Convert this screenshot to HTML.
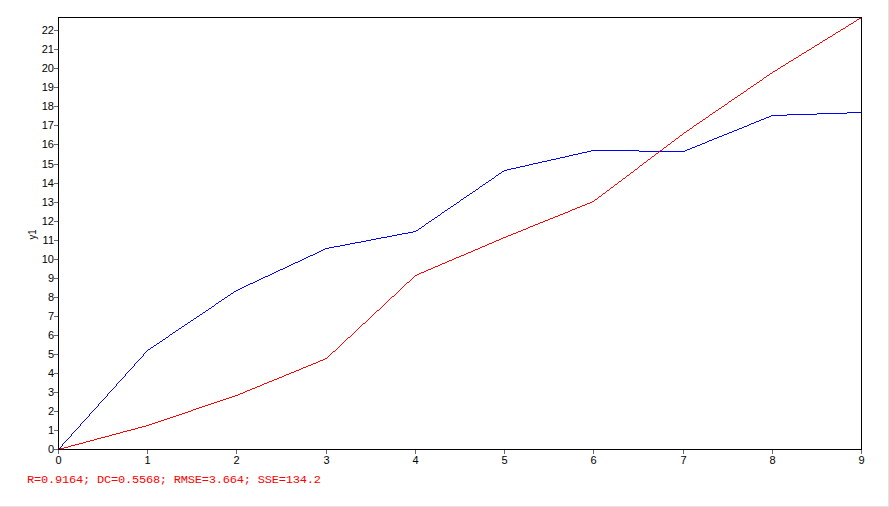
<!DOCTYPE html>
<html lang="en">
<head>
<meta charset="utf-8">
<title>Chart</title>
<style>
html,body{margin:0;padding:0;background:#fff;overflow:hidden}
#wrap{position:relative;width:888px;height:506px;background:#fff;border-right:1px solid #e3e3e3;border-bottom:1px solid #e3e3e3;overflow:hidden}
svg{position:absolute;left:0;top:0;display:block}
.t{font-family:"Liberation Sans",Arial,sans-serif;font-size:11px;fill:#000}
.s{font-family:"Liberation Mono","Courier New",monospace;font-size:12px;fill:#ff0000;letter-spacing:-0.2px}
</style>
</head>
<body>
<div id="wrap">
<svg width="888" height="506" viewBox="0 0 888 506">

<g shape-rendering="crispEdges" fill="none" stroke-width="1" stroke-linejoin="miter">
<path d="M847 112.5h15M817 113.5h30M787 114.5h30M771 115.5h16M769 116.5h2M766 117.5h3M764 118.5h2M761 119.5h3M759 120.5h2M756 121.5h3M754 122.5h2M751 123.5h3M749 124.5h2M747 125.5h2M744 126.5h3M742 127.5h2M739 128.5h3M737 129.5h2M734 130.5h3M732 131.5h2M729 132.5h3M727 133.5h2M724 134.5h3M722 135.5h2M719 136.5h3M717 137.5h2M714 138.5h3M712 139.5h2M709 140.5h3M707 141.5h2M705 142.5h2M702 143.5h3M700 144.5h2M697 145.5h3M695 146.5h2M692 147.5h3M690 148.5h2M687 149.5h3M591 150.5h48M685 150.5h2M587 151.5h4M639 151.5h46M582 152.5h5M578 153.5h4M573 154.5h5M569 155.5h4M565 156.5h4M560 157.5h5M556 158.5h4M551 159.5h5M547 160.5h4M542 161.5h5M538 162.5h4M533 163.5h5M529 164.5h4M525 165.5h4M520 166.5h5M516 167.5h4M511 168.5h5M507 169.5h4M504 170.5h3M502 171.5h2M501 172.5h1M499 173.5h2M498 174.5h1M496 175.5h2M495 176.5h1M494 177.5h1M492 178.5h2M491 179.5h1M489 180.5h2M488 181.5h1M486 182.5h2M485 183.5h1M483 184.5h2M482 185.5h1M480 186.5h2M479 187.5h1M478 188.5h1M476 189.5h2M475 190.5h1M473 191.5h2M472 192.5h1M470 193.5h2M469 194.5h1M467 195.5h2M466 196.5h1M464 197.5h2M463 198.5h1M461 199.5h2M460 200.5h1M459 201.5h1M457 202.5h2M456 203.5h1M454 204.5h2M453 205.5h1M451 206.5h2M450 207.5h1M448 208.5h2M447 209.5h1M445 210.5h2M444 211.5h1M442 212.5h2M441 213.5h1M440 214.5h1M438 215.5h2M437 216.5h1M435 217.5h2M434 218.5h1M432 219.5h2M431 220.5h1M429 221.5h2M428 222.5h1M426 223.5h2M425 224.5h1M424 225.5h1M422 226.5h2M421 227.5h1M419 228.5h2M418 229.5h1M416 230.5h2M413 231.5h3M408 232.5h5M402 233.5h6M397 234.5h5M392 235.5h5M387 236.5h5M381 237.5h6M376 238.5h5M371 239.5h5M366 240.5h5M361 241.5h5M355 242.5h6M350 243.5h5M345 244.5h5M340 245.5h5M334 246.5h6M329 247.5h5M325 248.5h4M323 249.5h2M321 250.5h2M319 251.5h2M317 252.5h2M315 253.5h2M313 254.5h2M310 255.5h3M308 256.5h2M306 257.5h2M304 258.5h2M302 259.5h2M300 260.5h2M298 261.5h2M295 262.5h3M293 263.5h2M291 264.5h2M289 265.5h2M287 266.5h2M285 267.5h2M283 268.5h2M280 269.5h3M278 270.5h2M276 271.5h2M274 272.5h2M272 273.5h2M270 274.5h2M268 275.5h2M265 276.5h3M263 277.5h2M261 278.5h2M259 279.5h2M257 280.5h2M255 281.5h2M253 282.5h2M250 283.5h3M248 284.5h2M246 285.5h2M244 286.5h2M242 287.5h2M240 288.5h2M238 289.5h2M236 290.5h2M234 291.5h2M233 292.5h1M231 293.5h2M230 294.5h1M228 295.5h2M227 296.5h1M225 297.5h2M224 298.5h1M222 299.5h2M221 300.5h1M219 301.5h2M218 302.5h1M216 303.5h2M215 304.5h1M214 305.5h1M212 306.5h2M211 307.5h1M209 308.5h2M208 309.5h1M206 310.5h2M205 311.5h1M203 312.5h2M202 313.5h1M200 314.5h2M199 315.5h1M197 316.5h2M196 317.5h1M194 318.5h2M193 319.5h1M191 320.5h2M190 321.5h1M188 322.5h2M187 323.5h1M185 324.5h2M184 325.5h1M182 326.5h2M181 327.5h1M179 328.5h2M178 329.5h1M176 330.5h2M175 331.5h1M173 332.5h2M172 333.5h1M170 334.5h2M169 335.5h1M168 336.5h1M166 337.5h2M165 338.5h1M163 339.5h2M162 340.5h1M160 341.5h2M159 342.5h1M157 343.5h2M156 344.5h1M154 345.5h2M153 346.5h1M151 347.5h2M150 348.5h1M148 349.5h2M147 350.5h1M146 351.5h1M145 352.5h1M144 353.5h1M143 354.5h1M143 355.5h1M142 356.5h1M141 357.5h1M140 358.5h1M139 359.5h1M138 360.5h1M137 361.5h1M136 362.5h1M135 363.5h1M134 364.5h1M134 365.5h1M133 366.5h1M132 367.5h1M131 368.5h1M130 369.5h1M129 370.5h1M128 371.5h1M127 372.5h1M126 373.5h1M125 374.5h1M125 375.5h1M124 376.5h1M123 377.5h1M122 378.5h1M121 379.5h1M120 380.5h1M119 381.5h1M118 382.5h1M117 383.5h1M116 384.5h1M116 385.5h1M115 386.5h1M114 387.5h1M113 388.5h1M112 389.5h1M111 390.5h1M110 391.5h1M109 392.5h1M108 393.5h1M107 394.5h1M107 395.5h1M106 396.5h1M105 397.5h1M104 398.5h1M103 399.5h1M102 400.5h1M101 401.5h1M100 402.5h1M99 403.5h1M98 404.5h1M98 405.5h1M97 406.5h1M96 407.5h1M95 408.5h1M94 409.5h1M93 410.5h1M92 411.5h1M91 412.5h1M90 413.5h1M89 414.5h1M89 415.5h1M88 416.5h1M87 417.5h1M86 418.5h1M85 419.5h1M84 420.5h1M83 421.5h1M82 422.5h1M81 423.5h1M80 424.5h1M80 425.5h1M79 426.5h1M78 427.5h1M77 428.5h1M76 429.5h1M75 430.5h1M74 431.5h1M73 432.5h1M72 433.5h1M71 434.5h1M71 435.5h1M70 436.5h1M69 437.5h1M68 438.5h1M67 439.5h1M66 440.5h1M65 441.5h1M64 442.5h1M63 443.5h1M62 444.5h1M62 445.5h1M61 446.5h1M60 447.5h1M59 448.5h1M58 449.5h1" stroke="#0000ff"/>
<path d="M861 17.5h1M859 18.5h2M857 19.5h2M856 20.5h1M854 21.5h2M853 22.5h1M851 23.5h2M849 24.5h2M848 25.5h1M846 26.5h2M845 27.5h1M843 28.5h2M841 29.5h2M840 30.5h1M838 31.5h2M836 32.5h2M835 33.5h1M833 34.5h2M832 35.5h1M830 36.5h2M828 37.5h2M827 38.5h1M825 39.5h2M823 40.5h2M822 41.5h1M820 42.5h2M819 43.5h1M817 44.5h2M815 45.5h2M814 46.5h1M812 47.5h2M811 48.5h1M809 49.5h2M807 50.5h2M806 51.5h1M804 52.5h2M802 53.5h2M801 54.5h1M799 55.5h2M798 56.5h1M796 57.5h2M794 58.5h2M793 59.5h1M791 60.5h2M789 61.5h2M788 62.5h1M786 63.5h2M785 64.5h1M783 65.5h2M781 66.5h2M780 67.5h1M778 68.5h2M777 69.5h1M775 70.5h2M773 71.5h2M772 72.5h1M770 73.5h2M769 74.5h1M767 75.5h2M766 76.5h1M764 77.5h2M763 78.5h1M762 79.5h1M760 80.5h2M759 81.5h1M757 82.5h2M756 83.5h1M754 84.5h2M753 85.5h1M751 86.5h2M750 87.5h1M748 88.5h2M747 89.5h1M746 90.5h1M744 91.5h2M743 92.5h1M741 93.5h2M740 94.5h1M738 95.5h2M737 96.5h1M735 97.5h2M734 98.5h1M732 99.5h2M731 100.5h1M729 101.5h2M728 102.5h1M727 103.5h1M725 104.5h2M724 105.5h1M722 106.5h2M721 107.5h1M719 108.5h2M718 109.5h1M716 110.5h2M715 111.5h1M713 112.5h2M712 113.5h1M710 114.5h2M709 115.5h1M708 116.5h1M706 117.5h2M705 118.5h1M703 119.5h2M702 120.5h1M700 121.5h2M699 122.5h1M697 123.5h2M696 124.5h1M694 125.5h2M693 126.5h1M692 127.5h1M690 128.5h2M689 129.5h1M687 130.5h2M686 131.5h1M684 132.5h2M683 133.5h1M682 134.5h1M680 135.5h2M679 136.5h1M678 137.5h1M676 138.5h2M675 139.5h1M674 140.5h1M672 141.5h2M671 142.5h1M670 143.5h1M668 144.5h2M667 145.5h1M666 146.5h1M664 147.5h2M663 148.5h1M662 149.5h1M660 150.5h2M659 151.5h1M658 152.5h1M656 153.5h2M655 154.5h1M654 155.5h1M652 156.5h2M651 157.5h1M650 158.5h1M648 159.5h2M647 160.5h1M646 161.5h1M644 162.5h2M643 163.5h1M642 164.5h1M640 165.5h2M639 166.5h1M638 167.5h1M637 168.5h1M635 169.5h2M634 170.5h1M633 171.5h1M631 172.5h2M630 173.5h1M629 174.5h1M627 175.5h2M626 176.5h1M625 177.5h1M623 178.5h2M622 179.5h1M621 180.5h1M619 181.5h2M618 182.5h1M617 183.5h1M615 184.5h2M614 185.5h1M613 186.5h1M611 187.5h2M610 188.5h1M609 189.5h1M607 190.5h2M606 191.5h1M605 192.5h1M603 193.5h2M602 194.5h1M601 195.5h1M599 196.5h2M598 197.5h1M597 198.5h1M595 199.5h2M594 200.5h1M592 201.5h2M590 202.5h2M587 203.5h3M585 204.5h2M582 205.5h3M580 206.5h2M577 207.5h3M575 208.5h2M572 209.5h3M570 210.5h2M568 211.5h2M565 212.5h3M563 213.5h2M560 214.5h3M558 215.5h2M555 216.5h3M553 217.5h2M550 218.5h3M548 219.5h2M545 220.5h3M543 221.5h2M540 222.5h3M538 223.5h2M535 224.5h3M533 225.5h2M530 226.5h3M528 227.5h2M526 228.5h2M523 229.5h3M521 230.5h2M518 231.5h3M516 232.5h2M513 233.5h3M511 234.5h2M508 235.5h3M506 236.5h2M503 237.5h3M501 238.5h2M499 239.5h2M496 240.5h3M494 241.5h2M492 242.5h2M489 243.5h3M487 244.5h2M485 245.5h2M482 246.5h3M480 247.5h2M478 248.5h2M475 249.5h3M473 250.5h2M471 251.5h2M468 252.5h3M466 253.5h2M464 254.5h2M461 255.5h3M459 256.5h2M456 257.5h3M454 258.5h2M452 259.5h2M449 260.5h3M447 261.5h2M445 262.5h2M442 263.5h3M440 264.5h2M438 265.5h2M435 266.5h3M433 267.5h2M431 268.5h2M428 269.5h3M426 270.5h2M424 271.5h2M421 272.5h3M419 273.5h2M417 274.5h2M415 275.5h2M414 276.5h1M413 277.5h1M412 278.5h1M411 279.5h1M410 280.5h1M409 281.5h1M407 282.5h2M406 283.5h1M405 284.5h1M404 285.5h1M403 286.5h1M402 287.5h1M401 288.5h1M400 289.5h1M399 290.5h1M398 291.5h1M397 292.5h1M396 293.5h1M395 294.5h1M394 295.5h1M392 296.5h2M391 297.5h1M390 298.5h1M389 299.5h1M388 300.5h1M387 301.5h1M386 302.5h1M385 303.5h1M384 304.5h1M383 305.5h1M382 306.5h1M381 307.5h1M380 308.5h1M379 309.5h1M377 310.5h2M376 311.5h1M375 312.5h1M374 313.5h1M373 314.5h1M372 315.5h1M371 316.5h1M370 317.5h1M369 318.5h1M368 319.5h1M367 320.5h1M366 321.5h1M365 322.5h1M363 323.5h2M362 324.5h1M361 325.5h1M360 326.5h1M359 327.5h1M358 328.5h1M357 329.5h1M356 330.5h1M355 331.5h1M354 332.5h1M353 333.5h1M352 334.5h1M351 335.5h1M350 336.5h1M348 337.5h2M347 338.5h1M346 339.5h1M345 340.5h1M344 341.5h1M343 342.5h1M342 343.5h1M341 344.5h1M340 345.5h1M339 346.5h1M338 347.5h1M337 348.5h1M336 349.5h1M335 350.5h1M333 351.5h2M332 352.5h1M331 353.5h1M330 354.5h1M329 355.5h1M328 356.5h1M327 357.5h1M325 358.5h2M323 359.5h2M320 360.5h3M318 361.5h2M316 362.5h2M313 363.5h3M311 364.5h2M308 365.5h3M306 366.5h2M303 367.5h3M301 368.5h2M299 369.5h2M296 370.5h3M294 371.5h2M291 372.5h3M289 373.5h2M286 374.5h3M284 375.5h2M282 376.5h2M279 377.5h3M277 378.5h2M274 379.5h3M272 380.5h2M269 381.5h3M267 382.5h2M264 383.5h3M262 384.5h2M260 385.5h2M257 386.5h3M255 387.5h2M252 388.5h3M250 389.5h2M247 390.5h3M245 391.5h2M243 392.5h2M240 393.5h3M238 394.5h2M235 395.5h3M232 396.5h3M229 397.5h3M226 398.5h3M223 399.5h3M220 400.5h3M217 401.5h3M214 402.5h3M211 403.5h3M208 404.5h3M205 405.5h3M202 406.5h3M199 407.5h3M196 408.5h3M193 409.5h3M191 410.5h2M188 411.5h3M185 412.5h3M182 413.5h3M179 414.5h3M176 415.5h3M173 416.5h3M170 417.5h3M167 418.5h3M164 419.5h3M161 420.5h3M158 421.5h3M155 422.5h3M152 423.5h3M149 424.5h3M146 425.5h3M142 426.5h4M138 427.5h4M135 428.5h3M131 429.5h4M127 430.5h4M123 431.5h4M120 432.5h3M116 433.5h4M112 434.5h4M109 435.5h3M105 436.5h4M101 437.5h4M97 438.5h4M94 439.5h3M90 440.5h4M86 441.5h4M83 442.5h3M79 443.5h4M75 444.5h4M71 445.5h4M68 446.5h3M64 447.5h4M60 448.5h4M58 449.5h2" stroke="#ff0000"/>
</g>
<g shape-rendering="crispEdges" stroke="#696969" stroke-width="1">
<line x1="54" y1="449.5" x2="58" y2="449.5"/>
<line x1="54" y1="430.5" x2="58" y2="430.5"/>
<line x1="54" y1="411.5" x2="58" y2="411.5"/>
<line x1="54" y1="392.5" x2="58" y2="392.5"/>
<line x1="54" y1="373.5" x2="58" y2="373.5"/>
<line x1="54" y1="354.5" x2="58" y2="354.5"/>
<line x1="54" y1="335.5" x2="58" y2="335.5"/>
<line x1="54" y1="316.5" x2="58" y2="316.5"/>
<line x1="54" y1="297.5" x2="58" y2="297.5"/>
<line x1="54" y1="278.5" x2="58" y2="278.5"/>
<line x1="54" y1="259.5" x2="58" y2="259.5"/>
<line x1="54" y1="240.5" x2="58" y2="240.5"/>
<line x1="54" y1="221.5" x2="58" y2="221.5"/>
<line x1="54" y1="202.5" x2="58" y2="202.5"/>
<line x1="54" y1="183.5" x2="58" y2="183.5"/>
<line x1="54" y1="164.5" x2="58" y2="164.5"/>
<line x1="54" y1="144.5" x2="58" y2="144.5"/>
<line x1="54" y1="125.5" x2="58" y2="125.5"/>
<line x1="54" y1="106.5" x2="58" y2="106.5"/>
<line x1="54" y1="87.5" x2="58" y2="87.5"/>
<line x1="54" y1="68.5" x2="58" y2="68.5"/>
<line x1="54" y1="49.5" x2="58" y2="49.5"/>
<line x1="54" y1="30.5" x2="58" y2="30.5"/>
<line x1="58.5" y1="450" x2="58.5" y2="454"/>
<line x1="147.5" y1="450" x2="147.5" y2="454"/>
<line x1="236.5" y1="450" x2="236.5" y2="454"/>
<line x1="326.5" y1="450" x2="326.5" y2="454"/>
<line x1="415.5" y1="450" x2="415.5" y2="454"/>
<line x1="504.5" y1="450" x2="504.5" y2="454"/>
<line x1="593.5" y1="450" x2="593.5" y2="454"/>
<line x1="683.5" y1="450" x2="683.5" y2="454"/>
<line x1="772.5" y1="450" x2="772.5" y2="454"/>
<line x1="861.5" y1="450" x2="861.5" y2="454"/>
</g>
<rect x="58.5" y="17.5" width="803" height="432" fill="none" stroke="#000" stroke-width="1" shape-rendering="crispEdges"/>
<g class="t" text-anchor="end">
<text x="54" y="453">0</text>
<text x="54" y="434">1</text>
<text x="54" y="415">2</text>
<text x="54" y="396">3</text>
<text x="54" y="377">4</text>
<text x="54" y="358">5</text>
<text x="54" y="339">6</text>
<text x="54" y="320">7</text>
<text x="54" y="301">8</text>
<text x="54" y="282">9</text>
<text x="54" y="263">10</text>
<text x="54" y="244">11</text>
<text x="54" y="225">12</text>
<text x="54" y="206">13</text>
<text x="54" y="187">14</text>
<text x="54" y="168">15</text>
<text x="54" y="148">16</text>
<text x="54" y="129">17</text>
<text x="54" y="110">18</text>
<text x="54" y="91">19</text>
<text x="54" y="72">20</text>
<text x="54" y="53">21</text>
<text x="54" y="34">22</text>
</g>
<g class="t" text-anchor="middle">
<text x="58.5" y="464">0</text>
<text x="147.5" y="464">1</text>
<text x="236.5" y="464">2</text>
<text x="326.5" y="464">3</text>
<text x="415.5" y="464">4</text>
<text x="504.5" y="464">5</text>
<text x="593.5" y="464">6</text>
<text x="683.5" y="464">7</text>
<text x="772.5" y="464">8</text>
<text x="861.5" y="464">9</text>
</g>
<text class="t" text-anchor="middle" transform="translate(36,234.6) rotate(-90) scale(0.86,1)">y1</text>
<text class="s" transform="translate(27,483) scale(1,0.87)">R=0.9164; DC=0.5568; RMSE=3.664; SSE=134.2</text>
</svg>
</div>
</body>
</html>
